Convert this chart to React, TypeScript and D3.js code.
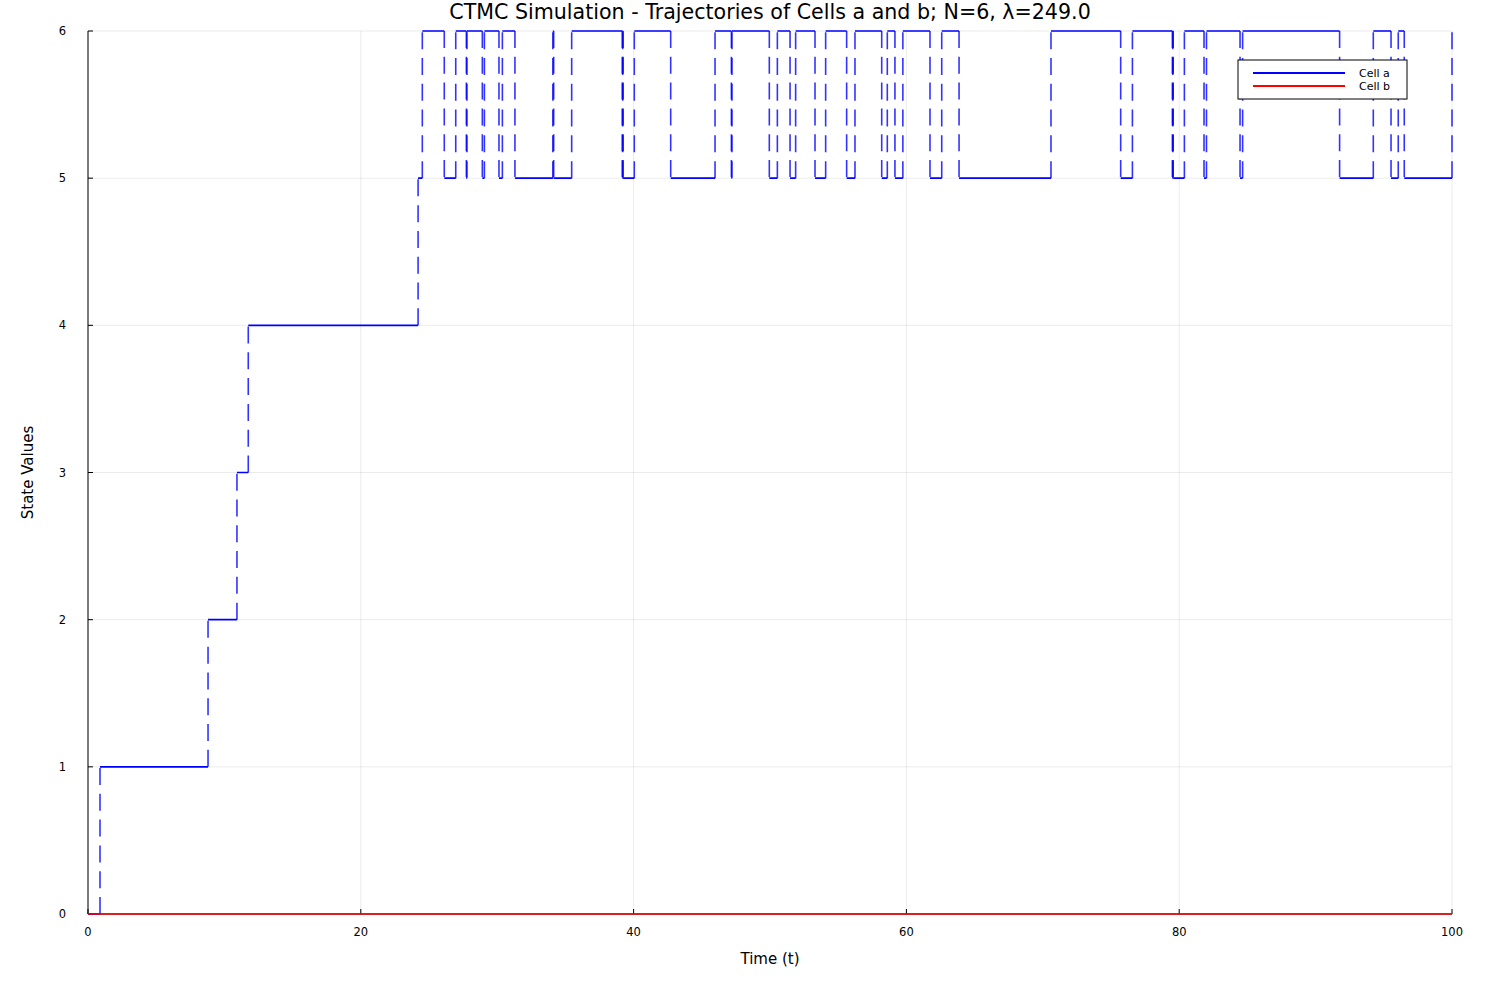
import React from 'react';
import * as d3 from 'd3';

// jump times and the state entered at each jump (cell a)
const jumpTimes = [
  0, 0.88, 8.8, 10.92, 11.75, 24.2, 24.51, 26.12, 26.96, 27.74, 27.78,
  28.91, 29.06, 30.13, 30.38, 31.3, 34.08, 34.14, 35.46, 39.17, 39.2, 39.23,
  40.05, 42.72, 45.97, 47.17, 47.21, 49.95, 50.54, 51.47, 51.88, 53.3, 54.08,
  55.62, 56.23, 58.19, 58.6, 59.16, 59.74, 61.73, 62.59, 63.86, 70.6, 75.71,
  76.57, 79.5, 79.53, 79.56, 80.38, 81.82, 82.0, 84.46, 84.65, 91.76, 94.23,
  95.53, 96.06, 96.5, 100,
];
const jumpStates = [
  0, 1, 2, 3, 4, 5, 6, 5, 6, 5, 6,
  5, 6, 5, 6, 5, 6, 5, 6, 5, 6, 5,
  6, 5, 6, 5, 6, 5, 6, 5, 6, 5, 6,
  5, 6, 5, 6, 5, 6, 5, 6, 5, 6, 5,
  6, 5, 6, 5, 6, 5, 6, 5, 6, 5, 6,
  5, 6, 5, 6,
];

// cell b never leaves 0
const cellBTimes = [0, 100];
const cellBStates = [0, 0];

const xTicks = [0, 20, 40, 60, 80, 100];
const yTicks = [0, 1, 2, 3, 4, 5, 6];
const legendItems = ['Cell a', 'Cell b'];

const W = 1500;
const H = 1000;
const margin = { top: 31, right: 48, bottom: 86, left: 88 };
const font = '"DejaVu Sans", sans-serif';

export default function App() {
  const x = d3.scaleLinear().domain([0, 100]).range([margin.left, W - margin.right]);
  const y = d3.scaleLinear().domain([0, 6]).range([H - margin.bottom, margin.top]);
  const colors = ['#0000ff', '#ff0000'];

  // horizontal pieces solid, vertical jumps dashed
  const flat = (ts: number[], ss: number[]) => {
    let p = '';
    for (let i = 0; i < ts.length - 1; i++) {
      p += `M${x(ts[i])},${y(ss[i])}H${x(ts[i + 1])}`;
    }
    return p;
  };
  const jumps: { t: number; a: number; b: number }[] = [];
  for (let i = 1; i < jumpTimes.length; i++) {
    jumps.push({ t: jumpTimes[i], a: jumpStates[i - 1], b: jumpStates[i] });
  }

  const x0 = margin.left;
  const x1 = W - margin.right;
  const y0 = H - margin.bottom;
  const y1 = margin.top;

  return (
    <svg width={W} height={H} style={{ position: 'absolute', left: 0, top: 0, background: '#fff' }}>
      <rect width={W} height={H} fill="#fff" />
      {/* grid */}
      <g stroke="#000" strokeOpacity={0.08} strokeWidth={1}>
        {xTicks.map(t => (
          <line key={'gx' + t} x1={x(t)} x2={x(t)} y1={y0} y2={y1} />
        ))}
        {yTicks.map(t => (
          <line key={'gy' + t} x1={x0} x2={x1} y1={y(t)} y2={y(t)} />
        ))}
      </g>

      {/* axes */}
      <g stroke="#000" strokeWidth={1}>
        <line x1={x0} x2={x0} y1={y0} y2={y1} />
        <line x1={x0} x2={x1} y1={y0} y2={y0} />
        {yTicks.map(t => (
          <line key={'ty' + t} x1={x0} x2={x0 + 5} y1={y(t)} y2={y(t)} />
        ))}
        {xTicks.map(t => (
          <line key={'tx' + t} x1={x(t)} x2={x(t)} y1={y0} y2={y0 - 5} />
        ))}
      </g>

      {/* cell a */}
      <path d={flat(jumpTimes, jumpStates)} fill="none" stroke={colors[0]} strokeWidth={1.6} />
      <g stroke={colors[0]} strokeWidth={1.6} strokeOpacity={0.8} strokeDasharray="17,8.8">
        {jumps.map((j, i) => (
          <line key={i} x1={x(j.t)} x2={x(j.t)} y1={y(j.a)} y2={y(j.b)} />
        ))}
      </g>

      {/* cell b */}
      <path d={flat(cellBTimes, cellBStates)} fill="none" stroke={colors[1]} strokeWidth={1.6} />

      <g fontFamily={font} fontSize={11.5} fill="#000">
        {yTicks.map(t => (
          <text key={'ly' + t} x={x0 - 22} y={y(t)} dy="0.35em" textAnchor="end">{t}</text>
        ))}
        {xTicks.map(t => (
          <text key={'lx' + t} x={x(t)} y={y0 + 22} textAnchor="middle">{t}</text>
        ))}
      </g>

      {/* labels */}
      <text x={(x0 + x1) / 2} y={18.5} textAnchor="middle" fontFamily={font} fontSize={20.6}>
        CTMC Simulation - Trajectories of Cells a and b; N=6, λ=249.0
      </text>
      <text x={(x0 + x1) / 2} y={964} textAnchor="middle" fontFamily={font} fontSize={15}>
        Time (t)
      </text>
      <text
        transform={`translate(33,${(y0 + y1) / 2}) rotate(-90)`}
        textAnchor="middle"
        fontFamily={font}
        fontSize={15}
      >
        State Values
      </text>

      {/* legend */}
      <g transform="translate(1238,60)">
        <rect width={169} height={39} fill="#fff" stroke="#000" strokeWidth={1} />
        {legendItems.map((d, i) => (
          <g key={d} transform={`translate(0,${13 + i * 13})`}>
            <line x1={15} x2={107} stroke={colors[i]} strokeWidth={2} />
            <text x={121} dy="0.35em" fontFamily={font} fontSize={11}>{d}</text>
          </g>
        ))}
      </g>
    </svg>
  );
}
